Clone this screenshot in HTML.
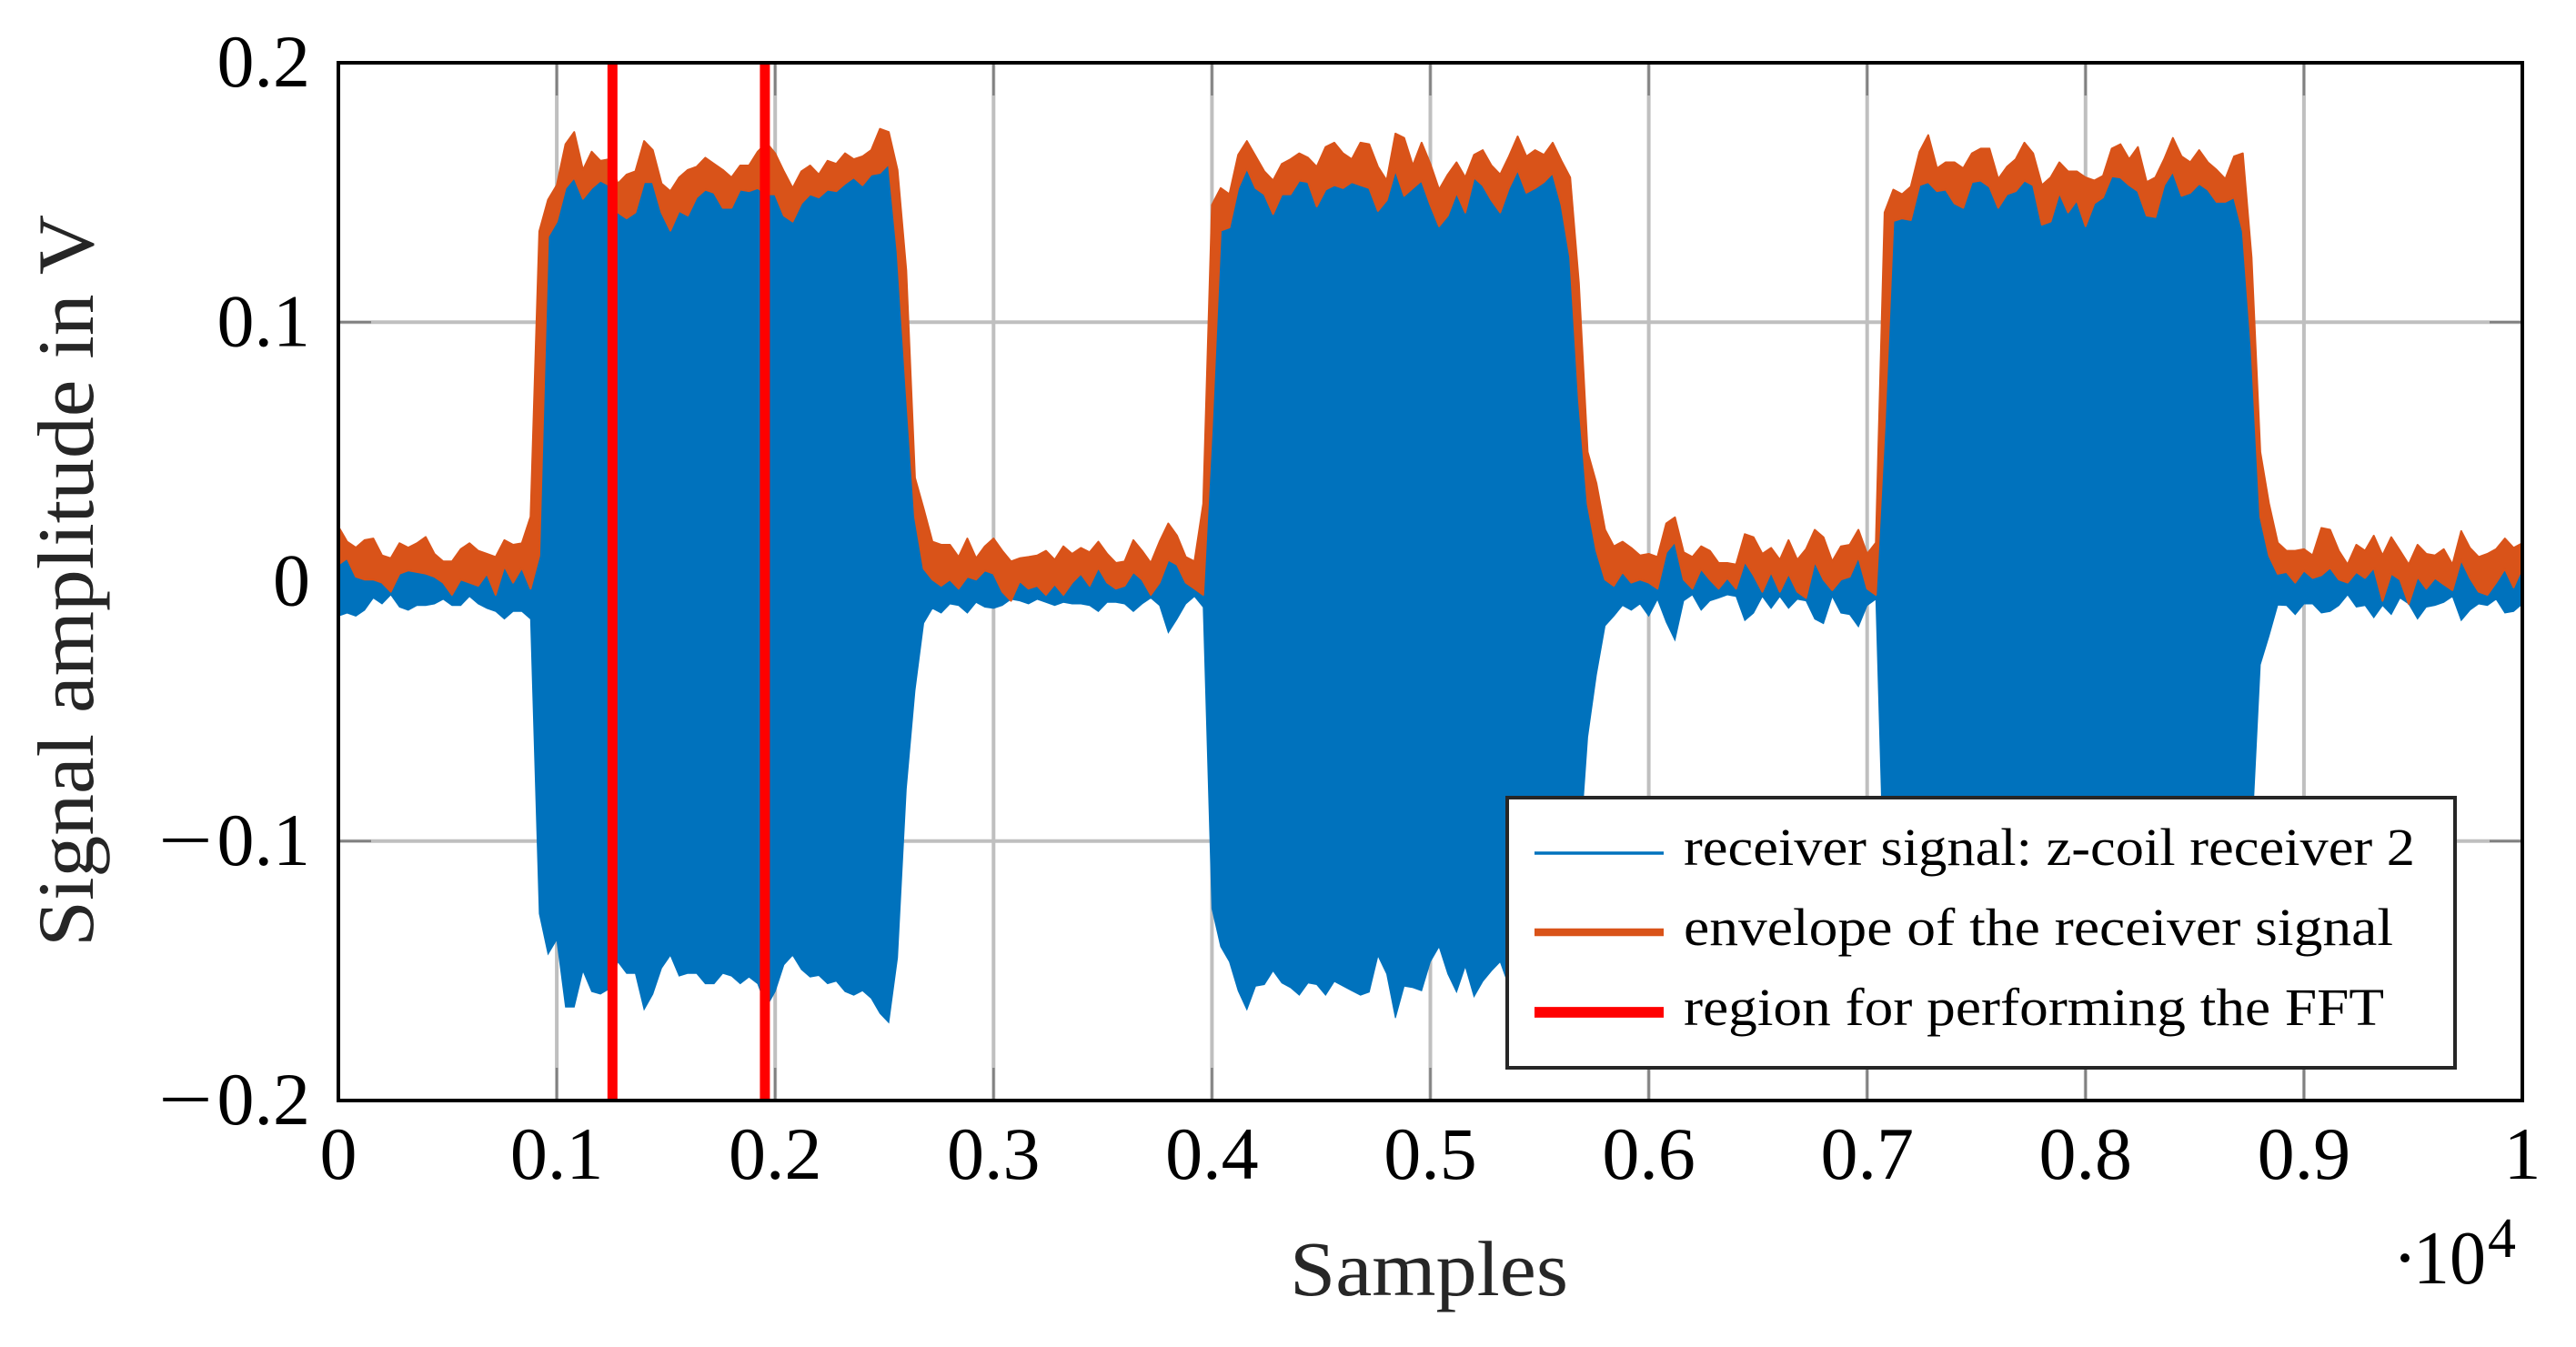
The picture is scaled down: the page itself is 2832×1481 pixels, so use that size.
<!DOCTYPE html>
<html lang="en">
<head>
<meta charset="utf-8">
<title>Receiver signal and envelope</title>
<style>
html,body{margin:0;padding:0;background:#fff}
svg{display:block}
text{font-family:"Liberation Serif",serif}
</style>
</head>
<body>
<svg id="chart" xmlns="http://www.w3.org/2000/svg" width="2832" height="1481" viewBox="0 0 2832 1481">
  <rect x="0" y="0" width="2832" height="1481" fill="#fff"/>
  <g id="grid"></g>
  <g id="ticks"></g>
  <g id="series"></g>
  <rect x="372" y="69" width="2401" height="1141" fill="none" stroke="#000" stroke-width="4"/>
  <g id="tick-labels"></g>
  <text transform="translate(102,1041) rotate(-90)" font-size="88" fill="#262626" textLength="805" lengthAdjust="spacingAndGlyphs">Signal amplitude in V</text>
  <text x="1418" y="1424" font-size="86" fill="#262626" textLength="306" lengthAdjust="spacingAndGlyphs">Samples</text>
  <text x="2630" y="1411" font-size="84" fill="#000">·</text>
  <text x="2653" y="1411" font-size="84" fill="#000" textLength="80" lengthAdjust="spacingAndGlyphs">10</text>
  <text x="2735" y="1382" font-size="62" fill="#000">4</text>
  <g>
    <rect x="1657" y="877" width="1042" height="297" fill="#fff" stroke="#262626" stroke-width="4"/>
    <g>
      <line x1="1687" x2="1829" y1="938" y2="938" stroke="#0072BD" stroke-width="3.4"/>
      <text x="1851" y="951" font-size="58" fill="#000" textLength="804" lengthAdjust="spacingAndGlyphs">receiver signal: z-coil receiver 2</text>
    </g>
    <g>
      <line x1="1687" x2="1829" y1="1025" y2="1025" stroke="#D95319" stroke-width="8.6"/>
      <text x="1851" y="1039" font-size="58" fill="#000" textLength="780" lengthAdjust="spacingAndGlyphs">envelope of the receiver signal</text>
    </g>
    <g>
      <line x1="1687" x2="1829" y1="1113" y2="1113" stroke="#FF0000" stroke-width="11.8"/>
      <text x="1851" y="1127" font-size="58" fill="#000" textLength="770" lengthAdjust="spacingAndGlyphs">region for performing the FFT</text>
    </g>
  </g>
</svg>
<script>
const sampleSpacing = 40;
const xTickValues = [0, 1000, 2000, 3000, 4000, 5000, 6000, 7000, 8000, 9000, 10000];
const xTickLabels = ["0", "0.1", "0.2", "0.3", "0.4", "0.5", "0.6", "0.7", "0.8", "0.9", "1"];
const yTickValues = [0.2, 0.1, 0, -0.1, -0.2];
const yTickLabels = ["0.2", "0.1", "0", "\u22120.1", "\u22120.2"];
const fftRegionSamples = [1255, 1953];
const envelopeMilliVolts = [
21.2,15.4,13.1,16,16.6,10.1,9,14.8,13.1,14.8,17.2,10.7,7.8,7.8,12.5,14.8,11.9,10.7,9.5,16,14.2,14.8,25,
135,147.2,152.8,168.6,173.3,158.7,165.7,162.2,162.8,153.4,156.9,158.1,169.8,166.3,153.4,150.5,155.8,158.7,159.9,163.4,161,158.7,155.8,160.4,160.4,165.7,169.2,165.1,158.1,151.7,158.1,160.4,156.9,162.2,161,165.1,162.8,163.9,166.3,174.5,173.3,158.7,
120,40,28,
15.4,14.2,14.2,9.5,16.6,9,13.6,16.6,11.9,7.8,9,9.5,10.1,11.9,8.4,13.6,10.7,13,11.3,15.4,10.7,7.2,7.8,16,11.9,7.2,15.4,22.4,17.7,9.5,7.8,30,
145.2,151.7,149.3,164.5,169.8,164,158.1,154.6,161,162.8,165.1,163.4,159.9,167.5,169.2,165.1,162.8,169.2,168.6,159.9,154.6,172.7,171,160.4,169.2,161,151.1,156.9,161.6,155.8,164.5,166.3,160.4,156.9,163.9,171.6,163.9,166.3,164.5,169.2,162.2,155.8,
115,50,38,20,
13.6,15.4,13,10.1,10.7,9.5,22.4,24.8,11.3,9.5,13.6,11.9,7.2,7.2,6.6,18.3,17.1,10.7,13,8.4,16,8.4,12.5,20,17.1,7.8,13.6,14.2,20,10.7,15,
142.3,151.1,149.3,152.2,165.7,172.1,159.3,161.6,161.6,159.3,165.1,166.9,166.9,155.2,159.9,162.8,169.2,165.1,152.8,155.8,161.6,158.1,158.1,155.8,154.6,156.4,166.9,168.6,162.8,167.5,154,155.8,162.8,171,163.9,161.6,166.3,161.6,158.7,155.2,163.9,165.1,125,
50,30,15,
11.9,11.9,12.5,10.1,20.7,20,11.9,6.6,14.2,11.9,17.7,10.1,17.1,11.9,6.6,14.2,10.7,10.1,12.5,6.6,19.5,13,9.5,10.7,12.5,16.6,13,14.8
];
const signalUpperMilliVolts = [
6.6,9,1.9,0.8,0.8,-0.4,-3.9,3.1,4.3,3.7,3.1,1.9,-0.4,-5.1,0.8,-0.4,-1.6,3.1,-5.1,6,-0.4,5.4,-2.7,
10,133,138.8,151.7,155.8,147.6,151.7,154.6,152.8,142.3,140,142.3,154,154,142.3,135.3,142.9,141.1,148.1,151.1,149.9,144.1,144.1,151.1,150.5,151.7,149.3,149.3,141.1,138.8,145.8,149.3,148.1,151.1,150.5,153.4,155.8,152.8,156.9,157.5,161,127,
75,25,5,
0.8,-1.6,0.8,-2.7,1.9,0.8,4.3,3.1,-3.9,-7.4,0.2,-2.7,-1.6,-5.1,-1,-5.1,-0.4,3.1,-1.6,5.4,-0.4,-2.7,-1.6,3.7,0.8,-5.1,-0.4,8.4,6.6,-0.4,-2.7,-5.1,
60,135.3,136.5,151.7,159.3,151.7,149.3,141.7,149.3,149.3,154.6,154,144.6,151.1,152.8,151.7,154,152.8,151.7,142.9,147,158.7,148.7,151.7,154.6,145.2,137,141.1,149.9,142.3,155.8,152.8,147,142.3,151.7,158.7,149.9,151.7,154,157.5,145.2,125,
70,30,12,0.8,
-1.6,3.7,-0.4,0.8,-0.4,-2.7,11.3,15.4,0.8,-2.7,4.9,0.8,-2.7,1.4,-2.7,7.8,2.5,-3.9,3.7,-3.9,3.1,-3.9,-6.3,7.8,0.8,-3.3,0.8,1.9,9.5,-2.7,-5.1,
60,139,140,139.4,152.8,154,150.5,151.1,145.8,144.1,154,154.6,152.2,144.1,149.3,150.5,154.6,152.8,137.6,138.8,149.9,142.3,147,137,145.8,148.1,156.3,155.8,152.8,150.5,141.1,140.5,152.8,158.1,148.7,149.9,153.4,151.1,146.4,146.4,148.1,135,90,
25,10,3,
3.7,-0.4,4.3,1.4,2.5,5.4,0.8,-0.4,3.7,1.4,5.4,-7.4,3.1,0.8,-8.6,1.9,-2.7,1.4,-1,-3.3,8.4,1.4,-3.9,-5.1,-0.4,4.9,-2.2,5.4
];
const signalLowerMilliVolts = [
-13.3,-12.1,-13.3,-11,-6.3,-8.6,-5.1,-9.8,-11,-9.2,-9.2,-8.6,-6.8,-9.2,-9.2,-5.7,-8.6,-10.3,-11.5,-14.4,-11.5,-11.5,-14.4,
-128,-143.6,-138,-164,-164,-150,-158,-159,-157,-146.5,-151,-151,-165,-159,-149,-144,-152,-151,-151,-155,-155,-151,-152,-155,-152.4,-155,-164,-158,-147.7,-144,-149.5,-152.4,-151.8,-155,-154,-158,-159.4,-157.7,-160.6,-166.4,-170,-145,
-80,-42,-16,
-10.3,-12.1,-8.6,-9.2,-12.1,-8,-9.8,-10.3,-9.2,-6.8,-7.4,-8.6,-6.8,-8,-9.2,-8,-8.6,-8.6,-9.2,-11.5,-8,-8,-8.6,-11.5,-8.6,-6.3,-9.2,-19.7,-14.4,-8.6,-5.7,-9.8,
-126,-140.7,-146.5,-157.7,-165,-155.9,-155.3,-150,-154.7,-156.5,-159.4,-154.7,-155.3,-159.4,-154.1,-155.9,-157.7,-159.4,-158.2,-144.2,-151.2,-168.2,-155.9,-156.5,-157.7,-146.5,-140.7,-151.2,-158.2,-148.3,-160,-154.1,-150,-146.5,-156,-164,-157,-159,-157,-162,-155,-149,
-108,-60,-36,-17,
-13.3,-9.2,-11,-8.6,-13.3,-6.8,-15.6,-22.6,-7.4,-5.1,-11,-7.4,-6.3,-5.1,-5.7,-15,-12.1,-5.7,-10.3,-5.7,-10.3,-6.8,-7.4,-14.4,-16.2,-5.7,-12.1,-12.7,-17.4,-9.2,-6.8,
-125,-143,-142,-145,-158,-165,-152,-154,-154,-152,-158,-160,-160,-148,-152,-155,-162,-158,-145,-148,-154,-151,-151,-148,-147,-149,-160,-161,-155,-160,-147,-148,-155,-164,-157,-154,-159,-154,-151,-148,-157,-150,-100,
-32,-21,-9,
-9.2,-12.7,-8.6,-8.6,-12.1,-11.5,-9.2,-5.1,-9.8,-9.2,-13.9,-9.2,-12.7,-6.3,-8.6,-14.4,-9.8,-9.2,-8,-5.7,-15,-11,-8.6,-9.2,-6.8,-12.1,-11.5,-8.6
];

const SVG_NS = "http://www.w3.org/2000/svg";
const PLOT_LEFT = 372, PLOT_RIGHT = 2773, PLOT_TOP = 69, PLOT_BOTTOM = 1210;
const X_MIN = 0, X_MAX = 10000, Y_MIN = -0.2, Y_MAX = 0.2;
const TICK_LENGTH = 36;
const MINUS = "\u2212";

function xScale(sample) {
  return PLOT_LEFT + (sample - X_MIN) / (X_MAX - X_MIN) * (PLOT_RIGHT - PLOT_LEFT);
}
function yScale(volts) {
  return PLOT_BOTTOM - (volts - Y_MIN) / (Y_MAX - Y_MIN) * (PLOT_BOTTOM - PLOT_TOP);
}
function makeNode(tag, attrs) {
  const el = document.createElementNS(SVG_NS, tag);
  Object.keys(attrs).forEach(function (k) { el.setAttribute(k, attrs[k]); });
  return el;
}
function bandPoints(upper, lower) {
  const pts = [];
  upper.forEach(function (mv, i) {
    pts.push(xScale(i * sampleSpacing).toFixed(1) + "," + yScale(mv / 1000).toFixed(1));
  });
  for (let i = lower.length - 1; i >= 0; i--) {
    pts.push(xScale(i * sampleSpacing).toFixed(1) + "," + yScale(lower[i] / 1000).toFixed(1));
  }
  return pts.join(" ");
}

const gridGroup = document.getElementById("grid");
const tickGroup = document.getElementById("ticks");
const seriesGroup = document.getElementById("series");
const labelGroup = document.getElementById("tick-labels");

xTickValues.forEach(function (v, i) {
  const x = xScale(v);
  if (v > X_MIN && v < X_MAX) {
    const g = makeNode("line", { x1: x, x2: x, y1: PLOT_TOP, y2: PLOT_BOTTOM, stroke: "#bfbfbf", "stroke-width": 4 });
    
    
    gridGroup.appendChild(g);
    const t1 = makeNode("line", { x1: x, x2: x, y1: PLOT_BOTTOM, y2: PLOT_BOTTOM - TICK_LENGTH, stroke: "#808080", "stroke-width": 2.5 });
    
    
    tickGroup.appendChild(t1);
    const t2 = makeNode("line", { x1: x, x2: x, y1: PLOT_TOP, y2: PLOT_TOP + TICK_LENGTH, stroke: "#808080", "stroke-width": 2.5 });
    
    
    tickGroup.appendChild(t2);
  }
  const label = makeNode("text", { x: x, y: 1296, "font-size": 82, "text-anchor": "middle", fill: "#000" });
  
  
  label.textContent = xTickLabels[i];
  labelGroup.appendChild(label);
});

yTickValues.forEach(function (v, i) {
  const y = yScale(v);
  if (v > Y_MIN && v < Y_MAX) {
    const g = makeNode("line", { x1: PLOT_LEFT, x2: PLOT_RIGHT, y1: y, y2: y, stroke: "#bfbfbf", "stroke-width": 4 });
    
    
    gridGroup.appendChild(g);
    const t1 = makeNode("line", { x1: PLOT_LEFT, x2: PLOT_LEFT + TICK_LENGTH, y1: y, y2: y, stroke: "#808080", "stroke-width": 2.5 });
    
    
    tickGroup.appendChild(t1);
    const t2 = makeNode("line", { x1: PLOT_RIGHT, x2: PLOT_RIGHT - TICK_LENGTH, y1: y, y2: y, stroke: "#808080", "stroke-width": 2.5 });
    
    
    tickGroup.appendChild(t2);
  }
  const text = yTickLabels[i];
  const negative = text.charAt(0) === MINUS;
  const label = makeNode("text", { x: 341, y: y + 26, "font-size": 82, "text-anchor": "end", fill: "#000" });
  
  
  label.textContent = negative ? text.slice(1) : text;
  labelGroup.appendChild(label);
  if (negative) {
    const sign = makeNode("text", { x: 174, y: y + 26, "font-size": 82, fill: "#000", textLength: 60, lengthAdjust: "spacingAndGlyphs" });
    
    
    sign.textContent = MINUS;
    labelGroup.appendChild(sign);
  }
});

const signalBand = makeNode("polygon", { points: bandPoints(signalUpperMilliVolts, signalLowerMilliVolts), fill: "#0072BD", stroke: "#0072BD", "stroke-width": 1 });


seriesGroup.appendChild(signalBand);

const envelopeBand = makeNode("polygon", { points: bandPoints(envelopeMilliVolts, signalUpperMilliVolts), fill: "#D95319", stroke: "#D95319", "stroke-width": 2, "stroke-linejoin": "round" });


seriesGroup.appendChild(envelopeBand);

fftRegionSamples.forEach(function (s) {
  const x = xScale(s);
  const marker = makeNode("line", { x1: x, x2: x, y1: yScale(Y_MIN), y2: yScale(Y_MAX), stroke: "#FF0000", "stroke-width": 11 });
  
  
  seriesGroup.appendChild(marker);
});
</script>
</body>
</html>
